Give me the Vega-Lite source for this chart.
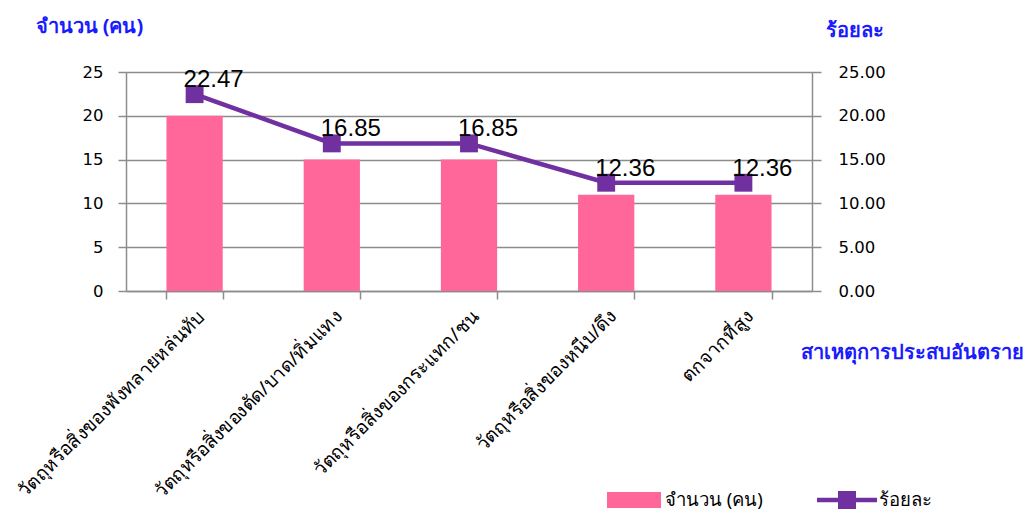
{
  "$schema": "https://vega.github.io/schema/vega-lite/v6.json",
  "width": 686,
  "height": 219,
  "autosize": {"type": "none"},
  "padding": {"left": 126, "top": 72, "right": 221, "bottom": 223},
  "background": "white",
  "config": {"view": {"stroke": null}, "font": "Noto Sans"},
  "data": {"values": [
    {"cause": "วัตถุหรือสิ่งของพังทลายหล่นทับ", "count": 20, "pct": 22.47},
    {"cause": "วัตถุหรือสิ่งของตัด/บาด/ทิ่มแทง", "count": 15, "pct": 16.85},
    {"cause": "วัตถุหรือสิ่งของกระแทก/ชน", "count": 15, "pct": 16.85},
    {"cause": "วัตถุหรือสิ่งของหนีบ/ดึง", "count": 11, "pct": 12.36},
    {"cause": "ตกจากที่สูง", "count": 11, "pct": 12.36}
  ]},
  "encoding": {
    "x": {
      "field": "cause", "type": "nominal", "sort": null,
      "scale": {"paddingInner": 0.59, "paddingOuter": 0.295},
      "axis": {
        "title": "สาเหตุการประสบอันตราย",
        "titleColor": "#1a1aff", "titleFontSize": 20, "titleFontWeight": "bold", "titleFont": "Noto Sans",
        "titleX": 674, "titleY": 67, "titleAlign": "left", "titleBaseline": "alphabetic", "titleAnchor": null,
        "tickBand": "extent", "ticks": true, "tickSize": 8, "tickColor": "#8c8c8c", "tickWidth": 1.5,
        "domainColor": "#8c8c8c", "domainWidth": 1.5,
        "labelAngle": -45, "labelFontSize": 19, "labelColor": "black", "labelPadding": 8,
        "labelLimit": 400, "grid": false
      }
    }
  },
  "layer": [
    {
      "mark": {"type": "bar"},
      "encoding": {
        "y": {
          "field": "count", "type": "quantitative",
          "scale": {"domain": [0, 25], "nice": false},
          "axis": {
            "values": [0, 5, 10, 15, 20, 25],
            "title": "จำนวน (คน)", "titleColor": "#1a1aff", "titleFontSize": 20, "titleFontWeight": "bold",
            "titleAngle": 0, "titleX": -91, "titleY": -40, "titleAlign": "left", "titleBaseline": "alphabetic",
            "grid": true, "gridColor": "#8c8c8c", "gridWidth": 1.5,
            "domainColor": "#8c8c8c", "domainWidth": 1.5, "tickColor": "#8c8c8c", "tickSize": 8, "tickWidth": 1.5,
            "labelFont": "DejaVu Sans", "labelFontSize": 16.5, "labelColor": "black", "labelPadding": 15
          }
        },
        "fill": {
          "datum": "จำนวน (คน)", "type": "nominal",
          "scale": {"range": ["#FF6699"]},
          "legend": {
            "title": null, "orient": "none", "legendX": 481, "legendY": 401, "padding": 0,
            "symbolType": "M-1,-0.3H1V0.3H-1Z", "symbolSize": 2916, "symbolStrokeWidth": 0,
            "labelFontSize": 18.5, "labelColor": "black", "labelOffset": 4
          }
        }
      }
    },
    {
      "layer": [
        {
          "mark": {"type": "line", "strokeWidth": 4.5},
          "encoding": {
            "y": {
              "field": "pct", "type": "quantitative",
              "scale": {"domain": [0, 25], "nice": false},
              "axis": {
                "orient": "right", "values": [0, 5, 10, 15, 20, 25], "format": ".2f",
                "title": "ร้อยละ", "titleColor": "#1a1aff", "titleFontSize": 20, "titleFontWeight": "bold",
                "titleAngle": 0, "titleX": 13, "titleY": -36, "titleAlign": "left", "titleBaseline": "alphabetic",
                "grid": false,
                "domainColor": "#8c8c8c", "domainWidth": 1.5, "tickColor": "#8c8c8c", "tickSize": 9, "tickWidth": 1.5,
                "labelFont": "DejaVu Sans", "labelFontSize": 16.5, "labelColor": "black", "labelPadding": 17
              }
            },
            "stroke": {
              "datum": "ร้อยละ", "type": "nominal",
              "scale": {"range": ["#7030A0"]},
              "legend": {
                "title": null, "orient": "none", "legendX": 691, "legendY": 398, "padding": 0,
                "symbolType": "M-1,-0.075H1V0.075H-1Z M-0.3,-0.3H0.3V0.3H-0.3Z", "symbolSize": 3600,
                "symbolFillColor": "#7030A0", "symbolStrokeWidth": 0,
                "labelFontSize": 18.5, "labelColor": "black", "labelOffset": 2
              }
            }
          }
        },
        {
          "mark": {"type": "point", "shape": "square", "filled": true, "size": 320, "color": "#7030A0", "opacity": 1},
          "encoding": {"y": {"field": "pct", "type": "quantitative"}}
        },
        {
          "mark": {"type": "text", "font": "Liberation Sans", "fontSize": 24, "color": "black", "dx": 19, "dy": -7, "baseline": "alphabetic"},
          "encoding": {
            "y": {"field": "pct", "type": "quantitative"},
            "text": {"field": "pct", "type": "quantitative", "format": ".2f"}
          }
        }
      ]
    }
  ],
  "resolve": {"scale": {"y": "independent"}}
}
